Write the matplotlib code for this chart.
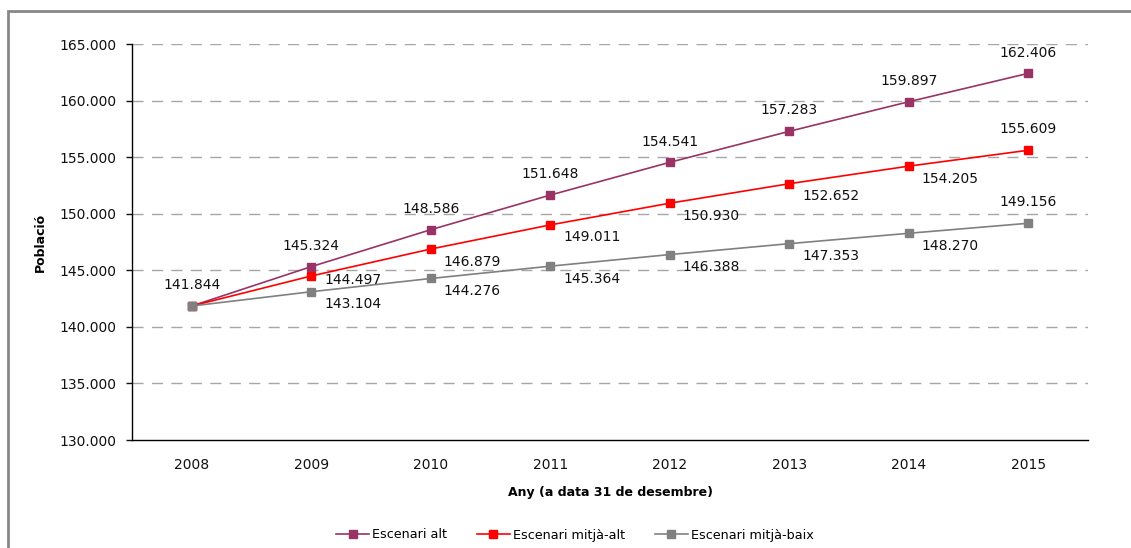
import matplotlib

matplotlib.use("Agg")
import matplotlib.pyplot as plt
from matplotlib.patches import Rectangle
from matplotlib.ticker import FuncFormatter

years = ["2008", "2009", "2010", "2011", "2012", "2013", "2014", "2015"]
alt = [141844, 145324, 148586, 151648, 154541, 157283, 159897, 162406]
mitja_alt = [141844, 144497, 146879, 149011, 150930, 152652, 154205, 155609]
mitja_baix = [141844, 143104, 144276, 145364, 146388, 147353, 148270, 149156]
series_names = ["Escenari alt", "Escenari mitjà-alt", "Escenari mitjà-baix"]
series_colors = ["#993366", "#FF0000", "#808080"]


def fmt(v):
    return f"{v:,.0f}".replace(",", ".")


fig = plt.figure(figsize=(11.31, 5.48), dpi=100)
ax = fig.add_axes([132 / 1131, 1 - 440 / 548, (1088 - 132) / 1131, (440 - 44) / 548])

x = list(range(len(years)))
for vals, name, col in zip([alt, mitja_alt, mitja_baix], series_names, series_colors):
    ax.plot(x, vals, color=col, lw=1.2, marker="s", ms=5.5, mec=col, mfc=col, label=name)

# data labels: "alt" above, the others below-right (last point above)
for i, v in enumerate(alt):
    ax.annotate(fmt(v), (x[i], v), xytext=(0, 15), textcoords="offset points",
                ha="center", va="center", fontsize=10, color="#111111")
for k, vals in enumerate((mitja_alt, mitja_baix)):
    for i, v in enumerate(vals):
        if i == 0:
            continue
        if i == len(vals) - 1:
            off = (0, 15)
        elif k == 0 and i == 1:
            off = (30, -3)  # nudged up to clear the grey label
        else:
            off = (30, -9)
        ax.annotate(fmt(v), (x[i], v), xytext=off, textcoords="offset points",
                    ha="center", va="center", fontsize=10, color="#111111")

ax.set_xlim(-0.5, len(years) - 0.5)
ax.set_ylim(130000, 165000)
ax.set_yticks(range(130000, 165001, 5000))
ax.yaxis.set_major_formatter(FuncFormatter(lambda v, p: fmt(v)))
ax.set_xticks(x)
ax.set_xticklabels(years)
ax.tick_params(axis="y", length=4, width=1, pad=7, labelsize=10, colors="#111111")
ax.tick_params(axis="x", length=0, pad=13, labelsize=10, colors="#111111")

for yv in range(135000, 165001, 5000):
    ax.axhline(yv, color="#A6A6A6", lw=1, ls=(0, (8, 6)), zorder=0)

for s in ("top", "right"):
    ax.spines[s].set_visible(False)
for s in ("left", "bottom"):
    ax.spines[s].set_color("black")
    ax.spines[s].set_linewidth(1)

ax.set_xlabel("Any (a data 31 de desembre)", fontsize=9, fontweight="bold", labelpad=10)
ax.set_ylabel("Població", fontsize=9, fontweight="bold", labelpad=9)

fig.legend(loc="center", bbox_to_anchor=(575 / 1131, 1 - 535 / 548), ncol=3, frameon=False,
           fontsize=9.2, handlelength=2.6, columnspacing=2.3, handletextpad=0.25)

# outer chart border, cut off at the right and bottom
fig.patches.append(Rectangle((8 / 1131, -0.2), 1.2, 1.2 - 11 / 548,
                             transform=fig.transFigure, fill=False,
                             edgecolor="#888888", lw=2))

fig.savefig("out.png", dpi=100)
